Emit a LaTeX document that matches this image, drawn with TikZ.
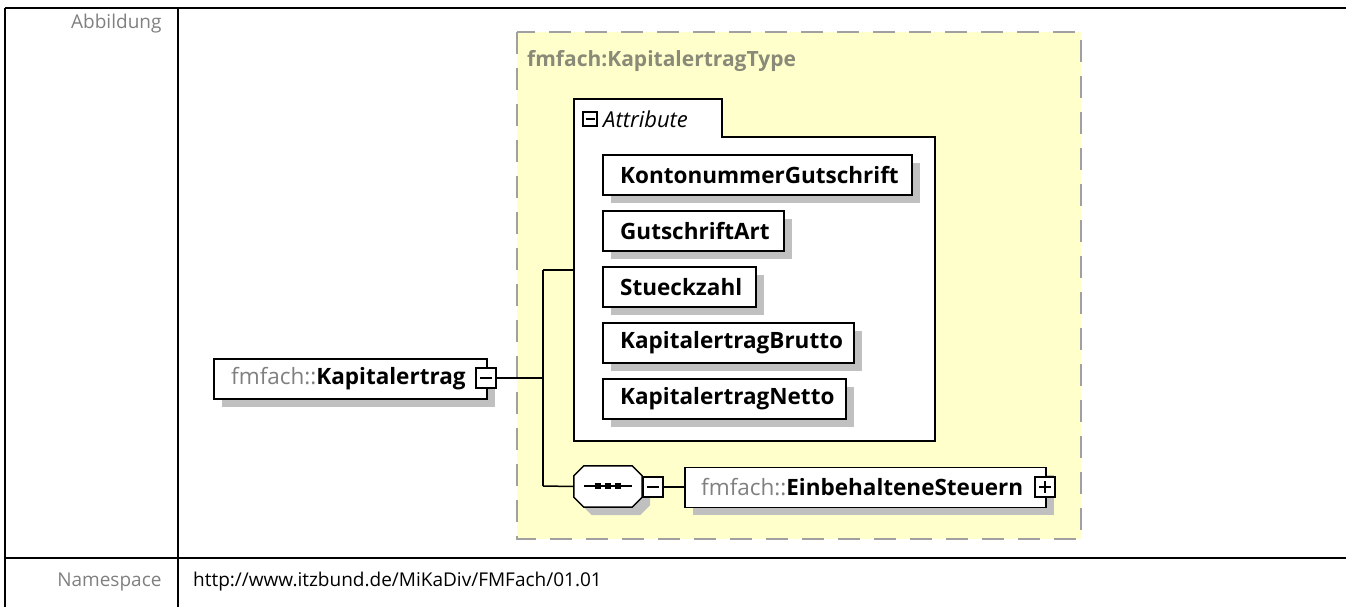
\documentclass[tikz,border=0pt]{standalone}
\usepackage{fontspec}
\setmainfont{Open Sans}
\usetikzlibrary{shadows}
\definecolor{yel}{HTML}{FFFFCC}
\definecolor{dashgray}{HTML}{A0A0A0}
\definecolor{shad}{HTML}{C0C0C0}
\definecolor{lblgray}{HTML}{808080}
\definecolor{titlegray}{HTML}{8A8A78}
\tikzset{
  tbl/.style={line width=2.2pt, black},
  shd/.style={drop shadow={shadow xshift=8pt, shadow yshift=-8pt, fill=shad, opacity=1}},
  elbox/.style={draw=black, line width=1.5pt, fill=white, shd, minimum height=40pt, inner sep=0pt, anchor=north west},
  attrbox/.style={elbox},
  attrtxt/.style={anchor=west, inner sep=0pt, font=\fontsize{22.5}{24}\selectfont\bfseries},
  eltxt/.style={anchor=west, inner sep=0pt, font=\fontsize{22.5}{24}\selectfont},
  pmbox/.style={draw=black, line width=1.4pt, fill=white, minimum width=20pt, minimum height=20pt, inner sep=0pt},
  conn/.style={line width=1.5pt, black},
  lbl/.style={font=\fontsize{19}{22}\selectfont, text=lblgray},
}
\begin{document}
\begin{tikzpicture}[x=1pt,y=-1pt]
\useasboundingbox (0,0) rectangle (1346,607);
% table
\draw[tbl] (5,8) -- (1346,8);
\draw[tbl] (5,558) -- (1346,558);
\draw[tbl] (5,8) -- (5,607);
\draw[tbl] (178,8) -- (178,607);
\node[lbl, anchor=east] (abb) at (165,24) {Abbildung};
\node[lbl, anchor=east] (ns) at (165,582) {Namespace};
\node[font=\fontsize{19}{22}\selectfont, anchor=west, inner xsep=0pt] (url) at (193,582) {http://www.itzbund.de/MiKaDiv/FMFach/01.01};
% type box
\fill[yel] (517,32) rectangle (1081,539);
\draw[dashgray, line width=2pt, dash pattern=on 22pt off 14pt] (517,32) rectangle (1081,539);
\node[anchor=west, font=\fontsize{21}{24}\selectfont\bfseries, text=titlegray, inner xsep=0pt] (title) at (527,61) {fmfach:KapitalertragType};
% attribute group
\draw[line width=1.5pt, fill=white] (574,99) -- (722,99) -- (722,137) -- (935,137) -- (935,441) -- (574,441) -- cycle;
\node[draw=black, line width=1.3pt, minimum width=14pt, minimum height=14pt, inner sep=0pt] (attrpm) at (590,119) {};
\draw[line width=1.3pt] ([xshift=-4.5pt]attrpm.center) -- ([xshift=4.5pt]attrpm.center);
\node[anchor=west, font=\fontsize{22}{24}\selectfont\itshape, inner xsep=0pt] (attrlbl) at (603,119) {Attribute};
\coordinate (attrin) at (574,270);
\node[attrbox, minimum width=309pt] (a1) at (602,154) {};
\node[attrtxt] at ([xshift=18pt]a1.west) {KontonummerGutschrift};
\node[attrbox, minimum width=181pt] (a2) at (602,210) {};
\node[attrtxt] at ([xshift=18pt]a2.west) {GutschriftArt};
\node[attrbox, minimum width=153pt] (a3) at (602,266) {};
\node[attrtxt] at ([xshift=18pt]a3.west) {Stueckzahl};
\node[attrbox, minimum width=251pt] (a4) at (602,322) {};
\node[attrtxt] at ([xshift=18pt]a4.west) {KapitalertragBrutto};
\node[attrbox, minimum width=243pt] (a5) at (602,378) {};
\node[attrtxt] at ([xshift=18pt]a5.west) {KapitalertragNetto};
% main element
\node[elbox, minimum width=273pt] (main) at (213,358) {};
\node[eltxt] at ([xshift=18pt]main.west) {\textcolor{lblgray}{fmfach::}\textbf{Kapitalertrag}};
\node[pmbox] (mainpm) at (486,378) {};
\draw[line width=1.4pt] ([xshift=-6pt]mainpm.center) -- ([xshift=6pt]mainpm.center);
% sequence compositor
\node[minimum width=68pt, minimum height=41pt, inner sep=0pt] (seq) at (608,486.5) {};
\fill[shad] ([shift={(18,8)}]seq.north west) -- ([shift={(-2,8)}]seq.north east) -- ([shift={(8,18)}]seq.north east)
  -- ([shift={(8,-2)}]seq.south east) -- ([shift={(-2,8)}]seq.south east) -- ([shift={(18,8)}]seq.south west)
  -- ([shift={(8,-2)}]seq.south west) -- ([shift={(8,18)}]seq.north west) -- cycle;
\draw[line width=1.5pt, fill=white] ([shift={(10,0)}]seq.north west) -- ([shift={(-10,0)}]seq.north east) -- ([shift={(0,10)}]seq.north east)
  -- ([shift={(0,-10)}]seq.south east) -- ([shift={(-10,0)}]seq.south east) -- ([shift={(10,0)}]seq.south west)
  -- ([shift={(0,-10)}]seq.south west) -- ([shift={(0,10)}]seq.north west) -- cycle;
\draw[line width=1.5pt] (584,486) -- (632,486);
\foreach \sx in {598,608,618} \fill (\sx-3,483) rectangle (\sx+3,489);
\node[pmbox] (seqpm) at (653,487) {};
\draw[line width=1.4pt] ([xshift=-6pt]seqpm.center) -- ([xshift=6pt]seqpm.center);
% child element
\node[elbox, minimum width=361pt] (child) at (684,466.5) {};
\node[eltxt] at ([xshift=17pt]child.west) {\textcolor{lblgray}{fmfach::}\textbf{EinbehalteneSteuern}};
\node[pmbox] (childpm) at (1045,487) {};
\draw[line width=1.4pt] ([xshift=-6pt]childpm.center) -- ([xshift=6pt]childpm.center);
\draw[line width=1.4pt] ([yshift=-6pt]childpm.center) -- ([yshift=6pt]childpm.center);
% connectors
\coordinate (junc) at (543,378);
\draw[conn] (mainpm.east) -- (junc);
\draw[conn] (543,270) -- (543,486);
\draw[conn] (543,270) -- (attrin);
\draw[conn] (543,486) -- (seq.west);
\draw[conn] (seqpm.east) -- (child.west |- seqpm.east);
\end{tikzpicture}
\end{document}
